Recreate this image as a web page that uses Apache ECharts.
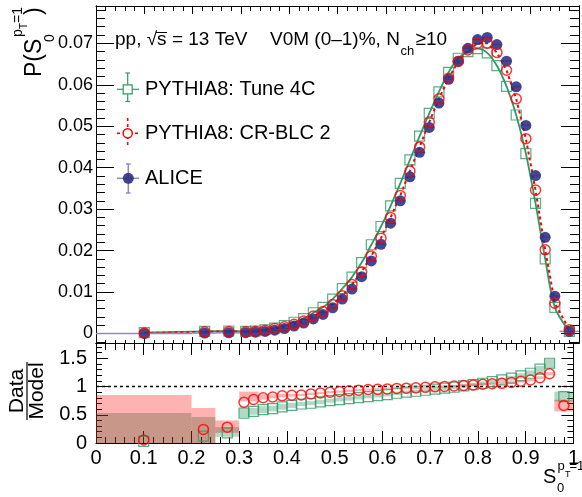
<!DOCTYPE html>
<html><head><meta charset="utf-8">
<script src="https://cdn.jsdelivr.net/npm/echarts@6/dist/echarts.min.js"></script>
<style>html,body{margin:0;padding:0;background:#fff}#c{width:582px;height:497px}</style>
</head><body><div id="c"></div>
<script>
// ---- data ----
const binCenters = [0.1, 0.225, 0.275, 0.31, 0.33, 0.35, 0.37, 0.39, 0.41, 0.43, 0.45, 0.47, 0.49, 0.51, 0.53, 0.55, 0.57, 0.59, 0.61, 0.63, 0.65, 0.67, 0.69, 0.71, 0.73, 0.75, 0.77, 0.79, 0.81, 0.83, 0.85, 0.87, 0.89, 0.91, 0.93, 0.95, 0.98];
const binHalfWidths = [0.1, 0.025, 0.025, 0.01, 0.01, 0.01, 0.01, 0.01, 0.01, 0.01, 0.01, 0.01, 0.01, 0.01, 0.01, 0.01, 0.01, 0.01, 0.01, 0.01, 0.01, 0.01, 0.01, 0.01, 0.01, 0.01, 0.01, 0.01, 0.01, 0.01, 0.01, 0.01, 0.01, 0.01, 0.01, 0.01, 0.02];
const aliceValues = [0.00002, 0.0001, 0.00015, 0.0002, 0.0003, 0.0005, 0.0008, 0.0012, 0.0018, 0.0025, 0.0035, 0.0046, 0.0062, 0.0083, 0.0107, 0.0137, 0.0175, 0.0215, 0.0266, 0.0320, 0.0378, 0.0437, 0.0497, 0.0556, 0.0613, 0.0657, 0.0688, 0.0709, 0.0714, 0.0697, 0.0657, 0.0595, 0.0502, 0.0381, 0.0232, 0.0090, 0.0005];
const tune4cValues = [0.0002, 0.0005, 0.0006, 0.0005, 0.0006, 0.0009, 0.0013, 0.0019, 0.0027, 0.0036, 0.0050, 0.0063, 0.0083, 0.0108, 0.0136, 0.0171, 0.0214, 0.0258, 0.0308, 0.0362, 0.0419, 0.0476, 0.0531, 0.0583, 0.0630, 0.0664, 0.0680, 0.0687, 0.0677, 0.0646, 0.0596, 0.0527, 0.0434, 0.0314, 0.0180, 0.0063, 0.0005];
const crblcValues = [0.0001, 0.0004, 0.0005, 0.0004, 0.00055, 0.0008, 0.0012, 0.0016, 0.0022, 0.0030, 0.0042, 0.0053, 0.0070, 0.0091, 0.0118, 0.0149, 0.0187, 0.0230, 0.0280, 0.0333, 0.0392, 0.0450, 0.0510, 0.0566, 0.0616, 0.0656, 0.0684, 0.0700, 0.0700, 0.0678, 0.0635, 0.0566, 0.0470, 0.0346, 0.0202, 0.0073, 0.0009];
const ratioTune4c = [0.03, 0.12, 0.18, 0.53, 0.56, 0.59, 0.61, 0.64, 0.665, 0.69, 0.704, 0.727, 0.751, 0.769, 0.786, 0.804, 0.822, 0.84, 0.857, 0.881, 0.899, 0.916, 0.934, 0.952, 0.97, 0.987, 1.011, 1.034, 1.058, 1.088, 1.117, 1.147, 1.188, 1.235, 1.306, 1.412, 0.82];
const ratioCrblc = [0.055, 0.24, 0.28, 0.72, 0.77, 0.80, 0.815, 0.835, 0.845, 0.85, 0.869, 0.887, 0.899, 0.911, 0.923, 0.935, 0.946, 0.95, 0.958, 0.966, 0.971, 0.976, 0.985, 0.994, 1.0, 1.008, 1.018, 1.027, 1.04, 1.048, 1.056, 1.073, 1.092, 1.115, 1.155, 1.225, 0.665];
const bandTune4cLow = [0, 0, 0.11, 0.46, 0.50, 0.53, 0.56, 0.59, 0.62, 0.655, 0.67, 0.69, 0.715, 0.735, 0.75, 0.77, 0.79, 0.805, 0.825, 0.85, 0.87, 0.885, 0.905, 0.92, 0.94, 0.955, 0.98, 1.0, 1.025, 1.05, 1.08, 1.105, 1.14, 1.185, 1.245, 1.33, 0.735];
const bandTune4cHigh = [0.53, 0.46, 0.28, 0.60, 0.62, 0.65, 0.66, 0.69, 0.71, 0.725, 0.74, 0.76, 0.785, 0.805, 0.82, 0.84, 0.855, 0.875, 0.89, 0.91, 0.93, 0.945, 0.965, 0.985, 1.0, 1.02, 1.04, 1.065, 1.09, 1.125, 1.155, 1.19, 1.235, 1.285, 1.365, 1.49, 0.91];
const bandCrblcLow = [0, 0, 0.18, 0.735, 0.735, 0.77, 0.79, 0.81, 0.82, 0.83, 0.85, 0.865, 0.88, 0.89, 0.90, 0.915, 0.925, 0.93, 0.94, 0.945, 0.95, 0.955, 0.965, 0.975, 0.98, 0.99, 1.0, 1.005, 1.02, 1.025, 1.035, 1.05, 1.07, 1.09, 1.13, 1.195, 0.56];
const bandCrblcHigh = [0.85, 0.62, 0.40, 0.91, 0.91, 0.86, 0.86, 0.87, 0.87, 0.87, 0.89, 0.905, 0.92, 0.93, 0.945, 0.955, 0.965, 0.97, 0.98, 0.985, 0.99, 0.995, 1.005, 1.015, 1.02, 1.03, 1.04, 1.05, 1.06, 1.07, 1.08, 1.095, 1.115, 1.14, 1.18, 1.255, 0.765];
const xTickLabels = ['0', '0.1', '0.2', '0.3', '0.4', '0.5', '0.6', '0.7', '0.8', '0.9', '1'];
const probTickLabels = ['0', '0.01', '0.02', '0.03', '0.04', '0.05', '0.06', '0.07'];
const ratioTickLabels = ['0', '0.5', '1', '1.5'];
const legendLabels = ['PYTHIA8: Tune 4C', 'PYTHIA8: CR-BLC 2', 'ALICE'];

// ---- styles ----
const FONT = 'Liberation Sans';
const BLACK = '#000';
const GREEN = '#2f9a66';
const RED = '#ff0000';
const NAVY = '#2e2e82';
const ALICE_ERR = '#8c8cc8';

function fmt(labels) {
  return function (v) {
    for (const l of labels) { if (Math.abs(parseFloat(l) - v) < 1e-7) return l; }
    return '';
  };
}
function xAx(grid, pos, major, minor, labels) {
  return {
    type: 'value', gridIndex: grid, position: pos, min: 0, max: 1, interval: 0.1,
    axisLine: { show: true, onZero: false, lineStyle: { color: BLACK, width: 1 } },
    axisTick: { show: true, inside: true, length: major, lineStyle: { color: BLACK, width: 1 } },
    minorTick: { show: true, splitNumber: 5, length: minor, lineStyle: { color: BLACK, width: 1 } },
    axisLabel: labels ? { show: true, formatter: fmt(labels), color: BLACK, fontFamily: FONT, fontSize: 20, margin: 5, showMinLabel: true, showMaxLabel: true } : { show: false },
    splitLine: { show: false }, minorSplitLine: { show: false }
  };
}
function yAx(grid, pos, min, max, spacing, len, labels, fontSize, margin) {
  return Object.assign({
    type: 'value', gridIndex: grid, position: pos, min: min, max: max,
    axisLine: { show: true, onZero: false, lineStyle: { color: BLACK, width: 1 } },
    axisTick: { show: true, inside: true, length: len, lineStyle: { color: BLACK, width: 1 } },
    minorTick: { show: false },
    axisLabel: labels ? { show: true, formatter: fmt(labels), color: BLACK, fontFamily: FONT, fontSize: fontSize, margin: margin, showMinLabel: true, showMaxLabel: false } : { show: false },
    splitLine: { show: false }
  }, spacing);
}
const P_MIN = -0.0023, P_MAX = 0.079, R_MIN = 0, R_MAX = 1.77;

const pairs = (ys) => binCenters.map((x, i) => [x, ys[i]]);

function bandSeries(lo, hi, color, z) {
  return {
    type: 'custom', xAxisIndex: 2, yAxisIndex: 4, z: z, silent: true, clip: true,
    data: binCenters.map((x, i) => [x, binHalfWidths[i], lo[i], hi[i]]),
    encode: { x: 0, y: 2 },
    renderItem: function (params, api) {
      const x = api.value(0), h = api.value(1), a = api.value(2), b = api.value(3);
      const p1 = api.coord([x - h, b]), p2 = api.coord([x + h, a]);
      return { type: 'rect', shape: { x: p1[0], y: p1[1], width: p2[0] - p1[0], height: p2[1] - p1[1] }, style: { fill: color } };
    }
  };
}

const series = [
  // upper panel
  { type: 'line', xAxisIndex: 0, yAxisIndex: 0, data: pairs(tune4cValues), smooth: 0.3, showSymbol: false, symbol: 'none', silent: true, z: 2,
    lineStyle: { color: GREEN, width: 1.8 } },
  { type: 'scatter', xAxisIndex: 0, yAxisIndex: 0, data: pairs(tune4cValues), symbol: 'rect', symbolSize: 10, silent: true, z: 3,
    itemStyle: { color: 'rgba(0,0,0,0)', borderColor: GREEN, borderWidth: 1.2 } },
  { type: 'line', xAxisIndex: 0, yAxisIndex: 0, data: pairs(crblcValues), showSymbol: false, symbol: 'none', silent: true, z: 4,
    lineStyle: { color: RED, width: 2, type: [3, 3] } },
  { type: 'custom', xAxisIndex: 0, yAxisIndex: 0, silent: true, z: 5,
    data: binCenters.map((x, i) => [x, binHalfWidths[i], aliceValues[i]]),
    encode: { x: 0, y: 2 },
    renderItem: function (params, api) {
      const x = api.value(0), h = api.value(1), y = api.value(2);
      const p1 = api.coord([x - h, y]), p2 = api.coord([x + h, y]);
      return { type: 'line', shape: { x1: p1[0], y1: p1[1], x2: p2[0], y2: p2[1] }, style: { stroke: ALICE_ERR, lineWidth: 1.5 } };
    } },
  { type: 'scatter', xAxisIndex: 0, yAxisIndex: 0, data: pairs(aliceValues), symbol: 'circle', symbolSize: 11, silent: true, z: 6,
    itemStyle: { color: NAVY, opacity: 0.88 } },
  { type: 'scatter', xAxisIndex: 0, yAxisIndex: 0, data: pairs(crblcValues), symbol: 'circle', symbolSize: 10, silent: true, z: 7,
    itemStyle: { color: 'rgba(0,0,0,0)', borderColor: RED, borderWidth: 1.5 } },
  // lower panel
  bandSeries(bandTune4cLow, bandTune4cHigh, 'rgba(0,128,64,0.3)', 2),
  bandSeries(bandCrblcLow, bandCrblcHigh, 'rgba(255,0,0,0.3)', 3),
  { type: 'line', xAxisIndex: 2, yAxisIndex: 4, data: [[0, 1], [1, 1]], showSymbol: false, symbol: 'none', silent: true, z: 4,
    lineStyle: { color: BLACK, width: 1.5, type: [3, 3] } },
  { type: 'scatter', xAxisIndex: 2, yAxisIndex: 4, data: pairs(ratioTune4c), symbol: 'rect', symbolSize: 10, silent: true, z: 5,
    itemStyle: { color: 'rgba(0,0,0,0)', borderColor: GREEN, borderWidth: 1.2 } },
  { type: 'scatter', xAxisIndex: 2, yAxisIndex: 4, data: pairs(ratioCrblc), symbol: 'circle', symbolSize: 10, silent: true, z: 6,
    itemStyle: { color: 'rgba(0,0,0,0)', borderColor: RED, borderWidth: 1.5 } }
];

function txt(text, x, y, size, align, extra) {
  return Object.assign({ type: 'text', x: x, y: y, silent: true,
    style: { text: text, fontFamily: FONT, fontSize: size, fill: BLACK, align: align || 'left', verticalAlign: 'middle' } }, extra || {});
}
function ln(x1, y1, x2, y2, color, w, dash) {
  return { type: 'line', silent: true, shape: { x1: x1, y1: y1, x2: x2, y2: y2 }, style: { stroke: color, lineWidth: w, lineDash: dash || null } };
}

const graphics = [
  // header
  txt('pp, √s = 13 TeV', 115, 39.5, 19),
  ln(156, 32.5, 167, 32.5, BLACK, 1),
  txt('V0M (0–1)%, N', 270, 39.5, 19),
  txt('ch', 400.5, 51.5, 13),
  txt('≥10', 415.5, 39.5, 19),
  // legend: Tune 4C
  ln(127.7, 73, 127.7, 101.5, GREEN, 1.2), ln(125.3, 73, 130.1, 73, GREEN, 1.2), ln(125.3, 101.5, 130.1, 101.5, GREEN, 1.2),
  ln(117, 89.3, 139, 89.3, GREEN, 1.2),
  { type: 'rect', silent: true, shape: { x: 123.2, y: 84.8, width: 9, height: 9 }, style: { fill: '#fff', stroke: GREEN, lineWidth: 1.2 } },
  txt(legendLabels[0], 145, 89.3, 20),
  // legend: CR-BLC 2
  ln(127.7, 118, 127.7, 148, RED, 1.6, [3, 3]), ln(117, 133.3, 139, 133.3, RED, 1.6, [3, 3]),
  { type: 'circle', silent: true, shape: { cx: 127.7, cy: 133.3, r: 4.6 }, style: { fill: '#fff', stroke: RED, lineWidth: 1.5 } },
  txt(legendLabels[1], 145, 133.3, 20),
  // legend: ALICE
  ln(128.3, 164, 128.3, 193, ALICE_ERR, 1.5), ln(126, 164, 130.6, 164, ALICE_ERR, 1.5), ln(126, 193, 130.6, 193, ALICE_ERR, 1.5),
  ln(117, 178.3, 139, 178.3, ALICE_ERR, 1.5),
  { type: 'circle', silent: true, shape: { cx: 128.3, cy: 178.3, r: 5.5 }, style: { fill: NAVY, opacity: 0.9 } },
  txt(legendLabels[2], 145, 178.3, 20),
  // upper y title (rotated)
  { type: 'group', x: 34.5, y: 77, rotation: Math.PI / 2, silent: true, children: [
    txt('P(S', 0, 0, 23),
    txt('0', 35, 16, 14),
    txt('p', 40, -16, 14),
    txt('T', 48, -10, 10),
    txt('=1', 54, -16, 14),
    txt(')', 62, 0, 23)
  ] },
  // lower y title (rotated fraction)
  { type: 'group', x: 0, y: 391, rotation: Math.PI / 2, silent: true, children: [
    txt('Data', 0, 17, 21, 'center'),
    ln(-29, 27, 29, 27, BLACK, 1.2),
    txt('Model', 0, 37.5, 21, 'center')
  ] },
  // x title
  txt('S', 543, 477.5, 20),
  txt('0', 557, 488, 13),
  txt('p', 557.5, 466, 13),
  txt('T', 565, 474.5, 9),
  txt('=1', 569.5, 466, 13)
];

const option = {
  animation: false,
  backgroundColor: '#fff',
  grid: [
    { left: 96, top: 6, width: 483, height: 337 },
    { left: 96, top: 343, width: 483, height: 100 }
  ],
  xAxis: [
    xAx(0, 'bottom', 6, 3, null),
    xAx(0, 'top', 8, 5, null),
    xAx(1, 'bottom', 12, 6, xTickLabels),
    xAx(1, 'top', 12, 7, null)
  ],
  yAxis: [
    yAx(0, 'left', P_MIN, P_MAX, { splitNumber: 8 }, 18, probTickLabels, 18, 3),
    yAx(0, 'left', P_MIN, P_MAX, { splitNumber: 40 }, 9, null),
    yAx(0, 'right', P_MIN, P_MAX, { splitNumber: 8 }, 18, null),
    yAx(0, 'right', P_MIN, P_MAX, { splitNumber: 40 }, 9, null),
    yAx(1, 'left', R_MIN, R_MAX, { interval: 0.5 }, 12, ratioTickLabels, 20, 9),
    yAx(1, 'left', R_MIN, R_MAX, { interval: 0.1 }, 6, null),
    yAx(1, 'right', R_MIN, R_MAX, { interval: 0.5 }, 12, null),
    yAx(1, 'right', R_MIN, R_MAX, { interval: 0.1 }, 6, null)
  ],
  series: series,
  graphic: { elements: graphics }
};
const chart = echarts.init(document.getElementById('c'), null, { renderer: 'canvas' });
chart.setOption(option);
</script></body></html>
